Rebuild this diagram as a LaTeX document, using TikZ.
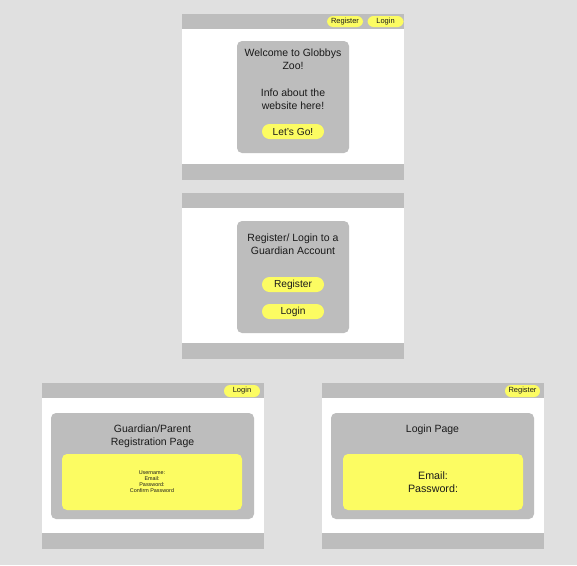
\documentclass[tikz,border=0pt]{standalone}
\usepackage{fontspec}
\setmainfont{Liberation Sans}
\definecolor{pagebg}{HTML}{E0E0E0}
\definecolor{bargray}{HTML}{BDBDBD}
\definecolor{btnyellow}{HTML}{FCFC62}
\definecolor{inktext}{HTML}{1A1A1A}
\tikzset{
  bar/.style={fill=bargray},
  card/.style={fill=bargray, rounded corners=5pt, inner sep=0pt},
  formbox/.style={fill=btnyellow, rounded corners=5pt, inner sep=0pt, text=inktext, align=center},
  pill/.style={fill=btnyellow, rounded corners=6pt, inner sep=0pt, text=inktext},
  smallpill/.style={pill, minimum width=36pt, minimum height=11pt, font=\fontsize{7.5}{9}\selectfont},
  bigpill/.style={pill, rounded corners=7.5pt, minimum width=62pt, minimum height=15pt, font=\fontsize{10.2}{12}\selectfont},
  label/.style={text=inktext, align=center, inner sep=0pt, font=\fontsize{10.5}{13}\selectfont}
}
\begin{document}
\begin{tikzpicture}[x=1pt, y=-1pt]
        % Page background
        \fill[pagebg] (0,0) rectangle (577,565);
        \useasboundingbox (0,0) rectangle (577,565);

        % Four page frames: header bar, white body, footer bar
        \foreach \px/\py in {182/14, 182/193, 42/383, 322/383} {
          \fill[bar] (\px,\py) rectangle ++(222,166);
          \fill[white] (\px,\py+15) rectangle ++(222,135);
        }

        % Home page
        \node[smallpill] (homeregister) at (345,21.5) {Register};
        \node[smallpill] (homelogin) at (385.5,21.5) {Login};
        \node[card, minimum width=112pt, minimum height=112pt] (homecard) at (293,97) {};
        \node[label] (welcome) at (293,59.5) {Welcome to Globbys\\Zoo!};
        \node[label] (info) at (293,99.5) {Info about the\\website here!};
        \node[bigpill] (letsgo) at (293,131.5) {Let’s Go!};

        % Choose account page
        \node[card, minimum width=112pt, minimum height=112pt] (choosecard) at (293,277) {};
        \node[label] (choosetitle) at (293,244.5) {Register/ Login to a\\Guardian Account};
        \node[bigpill] (chooseregister) at (293,284.5) {Register};
        \node[bigpill] (chooselogin) at (293,311.5) {Login};

        % Registration page
        \node[smallpill, minimum height=12pt] (reglogin) at (242,391) {Login};
        \node[card, minimum width=203pt, minimum height=106pt] (regcard) at (152.5,466) {};
        \node[label] (regtitle) at (152.5,436.5) {Guardian/Parent\\Registration Page};
        \node[formbox, minimum width=180pt, minimum height=56pt, font=\fontsize{5.4}{6.1}\selectfont] (regform) at (152,482)
          {Username:\\Email:\\Password:\\Confirm Password};

        % Login page
        \node[smallpill, minimum width=35pt, minimum height=12pt] (loginregister) at (522.5,391) {Register};
        \node[card, minimum width=203pt, minimum height=106pt] (logincard) at (432.5,466) {};
        \node[label] (logintitle) at (432.5,430) {Login Page};
        \node[formbox, minimum width=180pt, minimum height=56pt, font=\fontsize{10.7}{12.5}\selectfont] (loginform) at (433,482)
          {Email:\\Password:};
      \end{tikzpicture}
\end{document}
